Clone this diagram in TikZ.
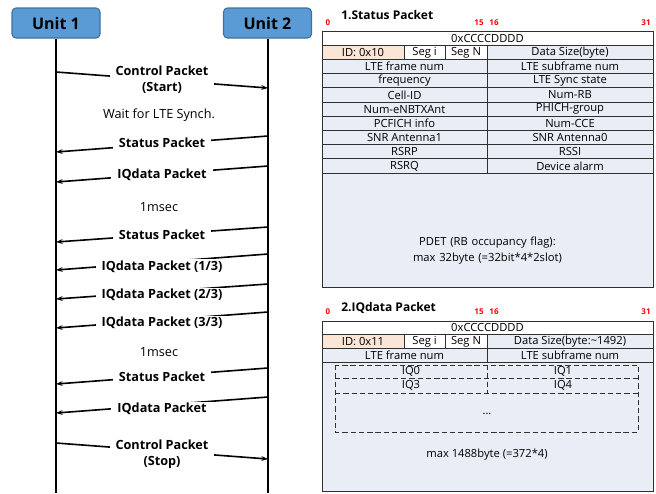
\documentclass[tikz,border=0pt]{standalone}
\usepackage{fontspec}
\setmainfont{Open Sans}
\usetikzlibrary{arrows.meta}
\definecolor{unitfill}{HTML}{5B9BD5}
\definecolor{unitdraw}{HTML}{41719C}
\definecolor{cellfill}{HTML}{E9EDF5}
\definecolor{idfill}{HTML}{FBE5D6}
\definecolor{numred}{HTML}{FF0000}
\definecolor{tline}{HTML}{303030}
\newcommand\tcell[6]{%
  \filldraw[tcellstyle, fill=#5] (#1,#2) rectangle (#3,#4);
  \path (#1,#2) -- node[ttext]{#6} (#3,#4);}
\begin{document}
\begin{tikzpicture}[x=0.75pt,y=-0.75pt,
  unit/.style={draw=unitdraw, fill=unitfill, rounded corners=3pt, line width=0.8pt,
    minimum width=66pt, minimum height=22.5pt, inner sep=0pt,
    font=\fontsize{12pt}{14pt}\selectfont\bfseries},
  life/.style={line width=1.5pt},
  msg/.style={line width=1.2pt, -{Stealth[length=5pt,width=3.6pt]}},
  lbl/.style={fill=white, inner xsep=4.5pt, inner ysep=1pt, align=center,
    font=\fontsize{9.5pt}{12pt}\selectfont\bfseries},
  note/.style={font=\fontsize{9.5pt}{12pt}\selectfont},
  tcellstyle/.style={draw=tline, line width=0.75pt},
  ttext/.style={font=\fontsize{8.4pt}{10pt}\selectfont, inner sep=0pt, align=center},
  ttitle/.style={anchor=west, inner sep=0pt, font=\fontsize{9pt}{11pt}\selectfont\bfseries},
  bitnum/.style={inner sep=0pt, text=numred, font=\fontsize{6pt}{7pt}\selectfont\bfseries},
  dashbox/.style={draw=tline, line width=0.75pt, dash pattern=on 4pt off 2.2pt}]
\useasboundingbox (0,0) rectangle (656,493);

% ---------- sequence part ----------
\node[unit] (u1) at (56,23) {Unit 1};
\node[unit] (u2) at (267.5,23) {Unit 2};
\coordinate (bot) at (0,493);
\draw[life] (u1.south) -- (u1.south |- bot);
\draw[life] (u2.south) -- (u2.south |- bot);

% endpoints on the lifelines
\coordinate (a1) at (56,72);   \coordinate (b1) at (268,88);
\coordinate (a2) at (56,152);  \coordinate (b2) at (268,136);
\coordinate (a3) at (56,182);  \coordinate (b3) at (268,166);
\coordinate (a4) at (56,242);  \coordinate (b4) at (268,227);
\coordinate (a5) at (56,270);  \coordinate (b5) at (268,254);
\coordinate (a6) at (56,299);  \coordinate (b6) at (268,284);
\coordinate (a7) at (56,328);  \coordinate (b7) at (268,312);
\coordinate (a8) at (56,384);  \coordinate (b8) at (268,368);
\coordinate (a9) at (56,413);  \coordinate (b9) at (268,397);
\coordinate (a10) at (56,443); \coordinate (b10) at (268,459);

\draw[msg] (a1) -- node[lbl, yshift=0pt] (l1) {Control Packet\\(Start)} (b1);
\node[note] (w1) at (159,115) {Wait for LTE Synch.};
\draw[msg] (b2) -- node[lbl, yshift=0.6pt] (l2) {Status Packet} (a2);
\draw[msg] (b3) -- node[lbl, yshift=-0.6pt] (l3) {IQdata Packet} (a3);
\node[note] (n1) at (159,207) {1msec};
\draw[msg] (b4) -- node[lbl, yshift=-0.3pt] (l4) {Status Packet} (a4);
\draw[msg] (b5) -- node[lbl, yshift=-3.5pt] (l5) {IQdata Packet (1/3)} (a5);
\draw[msg] (b6) -- node[lbl, yshift=-2.6pt] (l6) {IQdata Packet (2/3)} (a6);
\draw[msg] (b7) -- node[lbl, yshift=-2.2pt] (l7) {IQdata Packet (3/3)} (a7);
\node[note] (n2) at (159,352) {1msec};
\draw[msg] (b8) -- node[lbl, yshift=-0.6pt] (l8) {Status Packet} (a8);
\draw[msg] (b9) -- node[lbl, yshift=-3pt] (l9) {IQdata Packet} (a9);
\draw[msg] (a10) -- node[lbl, yshift=-2.6pt] (l10) {Control Packet\\(Stop)} (b10);

% ---------- 1. Status Packet ----------
\node[ttitle] (t1) at (341,15) {1.Status Packet};
\node[bitnum] (s0) at (328,23) {0};
\node[bitnum] (s15) at (479,23) {15};
\node[bitnum] (s16) at (494,23) {16};
\node[bitnum] (s31) at (646,23) {31};

\tcell{322}{31}{653}{45.2}{white}{0xCCCCDDDD}
\tcell{322}{45.2}{404}{59.4}{idfill}{ID: 0x10}
\tcell{404}{45.2}{445}{59.4}{white}{Seg i}
\tcell{445}{45.2}{487}{59.4}{white}{Seg N}
\tcell{487}{45.2}{653}{59.4}{cellfill}{Data Size(byte)}
\tcell{322}{59.4}{487}{73.6}{cellfill}{LTE frame num}
\tcell{487}{59.4}{653}{73.6}{cellfill}{LTE subframe num}
\tcell{322}{73.6}{487}{87.8}{cellfill}{frequency}
\tcell{487}{73.6}{653}{87.8}{cellfill}{LTE Sync state}
\tcell{322}{87.8}{487}{102}{cellfill}{Cell-ID}
\tcell{487}{87.8}{653}{102}{cellfill}{Num-RB}
\tcell{322}{102}{487}{116.2}{cellfill}{Num-eNBTXAnt}
\tcell{487}{102}{653}{116.2}{cellfill}{PHICH-group}
\tcell{322}{116.2}{487}{130.4}{cellfill}{PCFICH info}
\tcell{487}{116.2}{653}{130.4}{cellfill}{Num-CCE}
\tcell{322}{130.4}{487}{144.6}{cellfill}{SNR Antenna1}
\tcell{487}{130.4}{653}{144.6}{cellfill}{SNR Antenna0}
\tcell{322}{144.6}{487}{158.8}{cellfill}{RSRP}
\tcell{487}{144.6}{653}{158.8}{cellfill}{RSSI}
\tcell{322}{158.8}{487}{173}{cellfill}{RSRQ}
\tcell{487}{158.8}{653}{173}{cellfill}{Device alarm}
\filldraw[tcellstyle, fill=cellfill] (322,173) rectangle (653,287);
\node[ttext, text width=250pt, font=\fontsize{8.4pt}{12pt}\selectfont] (pdet) at (487.5,251)
  {PDET (RB occupancy flag):\\max 32byte (=32bit*4*2slot)};

% ---------- 2. IQdata Packet ----------
\node[ttitle] (t2) at (341,308) {2.IQdata Packet};
\node[bitnum] (q0) at (328,312) {0};
\node[bitnum] (q15) at (479,312) {15};
\node[bitnum] (q16) at (494,312) {16};
\node[bitnum] (q31) at (646,312) {31};

\tcell{322}{321}{653}{334.7}{white}{0xCCCCDDDD}
\tcell{322}{334.7}{404}{348.3}{idfill}{ID: 0x11}
\tcell{404}{334.7}{445}{348.3}{white}{Seg i}
\tcell{445}{334.7}{487}{348.3}{white}{Seg N}
\tcell{487}{334.7}{653}{348.3}{cellfill}{Data Size(byte:\textasciitilde1492)}
\tcell{322}{348.3}{487}{362}{cellfill}{LTE frame num}
\tcell{487}{348.3}{653}{362}{cellfill}{LTE subframe num}
\filldraw[tcellstyle, fill=cellfill] (322,362) rectangle (653,491);

\draw[dashbox] (335,365) rectangle (638,432);
\draw[dashbox] (335,378) -- (638,378);
\draw[dashbox] (335,393) -- (638,393);
\draw[dashbox] (487,365) -- (487,393);
\node[ttext] (iq0) at (411,371.5) {IQ0};
\node[ttext] (iq1) at (563,371.5) {IQ1};
\node[ttext] (iq3) at (411,385.5) {IQ3};
\node[ttext] (iq4) at (563,385.5) {IQ4};
\node[ttext] (dots) at (487,414) {...};
\node[ttext] (mx) at (487,455) {max 1488byte (=372*4)};
\end{tikzpicture}
\end{document}
